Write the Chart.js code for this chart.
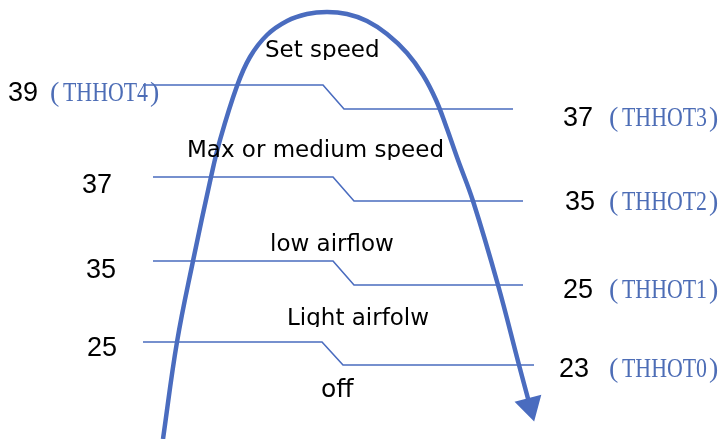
<!DOCTYPE html>
<html>
<head>
<meta charset="utf-8">
<title>Fan speed vs. temperature thresholds</title>
<script src="https://cdn.jsdelivr.net/npm/chart.js@4"></script>
<style>
  html, body { margin: 0; padding: 0; background: #fff; overflow: hidden; }
  #wrap { width: 719px; height: 439px; }
</style>
</head>
<body>
<div id="wrap"><canvas id="speedChart" width="719" height="439"></canvas></div>
<script>
// thresholds (°C): left = temperature rising, right = temperature falling
const riseTemps = [39, 37, 35, 25];
const fallTemps = [37, 35, 25, 23];
const riseCodes = ['THHOT4', '', '', ''];
const fallCodes = ['THHOT3', 'THHOT2', 'THHOT1', 'THHOT0'];
const modeLabels = ['Set speed', 'Max or medium speed', 'low airflow', 'Light airfolw', 'off'];

// step lines (diagram units, 719 x 439 plane)
const stepStartX = [143, 153, 153, 143];
const stepBendX  = [323, 333, 333, 322];
const stepLowX   = [344, 354, 354, 343];
const stepEndX   = [513, 523, 523, 534];
const stepHighY  = [85, 177, 261, 342];
const stepLowY   = [109, 201, 285, 365];

// the big arch with the arrow
const archX = [163, 177, 193, 211, 220, 237, 250, 267, 287, 307, 327,
               347, 367, 387, 407, 423, 436, 446, 458, 473, 498, 519, 530];
const archY = [439, 342, 261, 177, 140, 86, 57, 35, 21, 14, 12,
               14, 21, 34, 53, 75, 100, 126, 160, 201, 285, 365, 406];

// label anchors
const riseNumX = [8, 82, 86, 87];
const riseNumY = [101, 193, 278, 356];
const riseCodeX = 63;
const fallNumX = [563, 565, 563, 559];
const fallNumY = [126, 210, 298, 377];
const fallCodeX = 622;
const modeX = [265, 187, 270, 287, 321];
const modeY = [57, 157, 251, 325, 397];
const modeClip = [60, 160, null, 327, null];

const LINE = '#4A6CBF';
const CODE_BLUE = '#4D6DB6';

const stepSets = stepHighY.map(function(y, i) {
    return {
        label: 'step ' + riseTemps[i] + '/' + fallTemps[i],
        data: [
            { x: stepStartX[i], y: y },
            { x: stepBendX[i], y: y },
            { x: stepLowX[i], y: stepLowY[i] },
            { x: stepEndX[i], y: stepLowY[i] }
        ],
        borderColor: LINE,
        borderWidth: 1.6,
        pointRadius: 0,
        tension: 0,
        order: 1
    };
});

const archSet = {
    label: 'arch',
    data: archX.map((x, i) => ({ x: x, y: archY[i] })),
    borderColor: LINE,
    backgroundColor: LINE,
    borderWidth: 4.5,
    tension: 0.4,
    pointStyle: 'triangle',
    pointRotation: 165,
    pointRadius: archX.map((x, i) => i === archX.length - 1 ? 14 : 0),
    pointBorderWidth: 2,
    pointBorderColor: LINE,
    pointBackgroundColor: LINE,
    order: 0
};

const textPlugin = {
    id: 'diagramText',
    afterDatasetsDraw(chart) {
        const ctx = chart.ctx;
        const sx = chart.scales.x, sy = chart.scales.y;
        ctx.save();
        ctx.textBaseline = 'alphabetic';
        ctx.textAlign = 'left';

        function num(text, x, y) {
            ctx.fillStyle = '#000';
            ctx.font = '27px "Liberation Sans", Arial, sans-serif';
            ctx.fillText(text, sx.getPixelForValue(x), sy.getPixelForValue(y));
        }
        function code(text, x, y) {
            const px = sx.getPixelForValue(x), py = sy.getPixelForValue(y);
            ctx.fillStyle = CODE_BLUE;
            ctx.font = '28px "Liberation Serif", serif';
            const w = Math.min(ctx.measureText(text).width, 85);
            ctx.fillText('(', px - 13, py);
            ctx.fillText(text, px, py, 85);
            ctx.fillText(')', px + w + 2, py);
        }

        riseTemps.forEach(function(t, i) {
            num(String(t), riseNumX[i], riseNumY[i]);
            if (riseCodes[i]) code(riseCodes[i], riseCodeX, riseNumY[i]);
        });
        fallTemps.forEach(function(t, i) {
            num(String(t), fallNumX[i], fallNumY[i]);
            code(fallCodes[i], fallCodeX, fallNumY[i]);
        });

        modeLabels.forEach(function(m, i) {
            ctx.save();
            if (modeClip[i] !== null) {
                ctx.beginPath();
                ctx.rect(0, 0, chart.width, sy.getPixelForValue(modeClip[i]));
                ctx.clip();
            }
            ctx.fillStyle = '#000';
            ctx.font = (i === 4 ? '25px' : '23px') + ' "DejaVu Sans", Verdana, sans-serif';
            ctx.fillText(m, sx.getPixelForValue(modeX[i]), sy.getPixelForValue(modeY[i]));
            ctx.restore();
        });
        ctx.restore();
    }
};

new Chart(document.getElementById('speedChart'), {
    type: 'scatter',
    data: { datasets: [archSet].concat(stepSets) },
    options: {
        responsive: false,
        animation: false,
        showLine: true,
        clip: false,
        layout: { padding: 0, autoPadding: false },
        plugins: {
            legend: { display: false },
            tooltip: { enabled: false }
        },
        events: [],
        scales: {
            x: { type: 'linear', min: 0, max: 719, display: false },
            y: { type: 'linear', min: 0, max: 439, reverse: true, display: false }
        }
    },
    plugins: [textPlugin]
});
</script>
</body>
</html>
